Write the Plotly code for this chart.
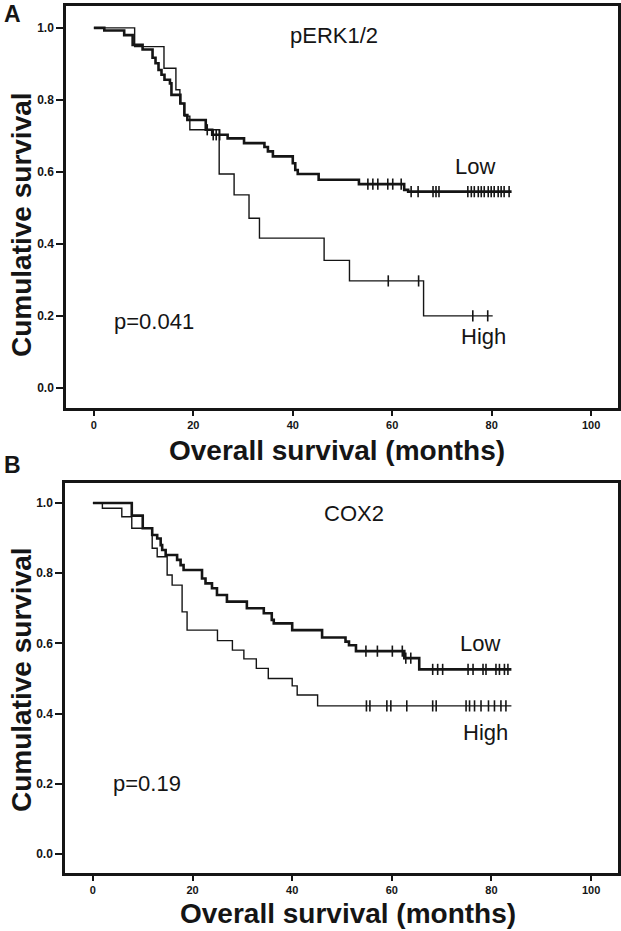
import plotly.graph_objects as go

# Panel A: pERK1/2 (months, cumulative survival after each step)
A_LOW_T = [0, 2.1, 6.1, 7.8, 9.8, 11.8, 12.4, 13.0, 13.6, 14.2, 15.3, 15.6, 17.4, 18.2, 18.8,
           22.5, 23.8, 26.9, 30.2, 34.3, 35.0, 36.0, 40.0, 40.5, 41.0, 45.2, 53.3, 62.4, 63.2, 84.0]
A_LOW_S = [1.0, 0.993, 0.98, 0.953, 0.94, 0.917, 0.902, 0.883, 0.87, 0.856, 0.846, 0.814, 0.79, 0.758, 0.744,
           0.717, 0.703, 0.693, 0.68, 0.669, 0.657, 0.643, 0.624, 0.605, 0.594, 0.578, 0.566, 0.55, 0.545, 0.545]
A_LOW_CENSOR = [24.0, 24.6, 25.3, 55.1, 56.1, 57.1, 59.1, 60.1, 61.8, 63.8, 65.2, 68.2, 68.8, 69.4,
                75.2, 75.9, 76.5, 77.3, 77.9, 78.5, 79.3, 79.9, 80.5, 81.3, 81.9, 82.5, 83.5]

A_HIGH_T = [0, 8.2, 14.1, 16.5, 17.3, 18.2, 19.3, 25.2, 28.2, 31.2, 33.3, 46.3, 51.4, 66.3, 80.2]
A_HIGH_S = [1.0, 0.948, 0.888, 0.828, 0.79, 0.755, 0.717, 0.594, 0.536, 0.471, 0.416, 0.354, 0.297, 0.2, 0.2]
A_HIGH_CENSOR = [22.8, 59.2, 65.3, 76.2, 79.2]

# Panel B: COX2
B_LOW_T = [0, 7.8, 10.0, 11.9, 12.9, 13.6, 13.9, 14.6, 16.9, 17.6, 18.2, 21.9, 22.6, 23.9, 24.9, 26.9,
           30.9, 34.3, 35.9, 36.3, 40.0, 46.0, 50.7, 51.4, 52.8, 62.5, 65.5, 84.0]
B_LOW_S = [1.0, 0.964, 0.928, 0.909, 0.899, 0.88, 0.866, 0.852, 0.838, 0.823, 0.809, 0.785, 0.771, 0.757, 0.738, 0.719,
           0.70, 0.686, 0.667, 0.657, 0.638, 0.617, 0.605, 0.595, 0.578, 0.558, 0.526, 0.526]
B_LOW_CENSOR = [54.8, 57.1, 60.1, 62.1, 62.8, 63.8, 68.2, 69.2, 70.2, 75.3, 76.3, 78.3, 78.9, 80.9, 81.6, 82.6, 83.3]

B_HIGH_T = [0, 1.9, 5.8, 7.8, 11.9, 12.9, 14.9, 15.9, 17.9, 18.9, 25.0, 28.0, 30.3, 32.8, 35.2, 40.0, 41.0, 45.1, 84.0]
B_HIGH_S = [1.0, 0.985, 0.961, 0.928, 0.871, 0.847, 0.795, 0.766, 0.69, 0.638, 0.608, 0.581, 0.556, 0.529, 0.50,
            0.479, 0.453, 0.422, 0.422]
B_HIGH_CENSOR = [54.9, 55.6, 59.0, 59.8, 63.0, 68.2, 68.9, 74.9, 75.6, 76.6, 77.9, 79.4, 80.6, 81.9, 82.9]

X_TICKS = [0, 20, 40, 60, 80, 100]
Y_TICKS = [0.0, 0.2, 0.4, 0.6, 0.8, 1.0]

INK = "#151515"
FONT = "Liberation Sans, Arial, sans-serif"


def surv_at(times, surv, t):
    """Step-function lookup: survival value in effect at time t."""
    val = surv[0]
    for ti, si in zip(times, surv):
        if ti <= t:
            val = si
    return val


def add_group(fig, times, surv, censor, width, xa, ya):
    fig.add_trace(go.Scatter(
        x=times, y=surv, mode="lines", line=dict(shape="hv", width=width, color=INK),
        xaxis=xa, yaxis=ya, showlegend=False, hoverinfo="skip",
    ))
    fig.add_trace(go.Scatter(
        x=censor, y=[surv_at(times, surv, t) for t in censor], mode="markers",
        marker=dict(symbol="line-ns", size=8, line=dict(width=1.6, color=INK)),
        xaxis=xa, yaxis=ya, showlegend=False, hoverinfo="skip",
    ))


fig = go.Figure()
add_group(fig, A_LOW_T, A_LOW_S, A_LOW_CENSOR, 2.6, "x", "y")
add_group(fig, A_HIGH_T, A_HIGH_S, A_HIGH_CENSOR, 1.4, "x", "y")
add_group(fig, B_LOW_T, B_LOW_S, B_LOW_CENSOR, 2.6, "x2", "y2")
add_group(fig, B_HIGH_T, B_HIGH_S, B_HIGH_CENSOR, 1.4, "x2", "y2")

xcommon = dict(
    range=[-5.6, 105.4], tickvals=X_TICKS, ticks="outside", ticklen=5, tickwidth=1.5, tickcolor=INK,
    showline=True, linewidth=2.5, linecolor=INK, mirror=True, showgrid=False, zeroline=False,
    tickfont=dict(family=FONT, size=11, color=INK, weight="bold"),
)
ycommon = dict(
    tickvals=Y_TICKS, tickformat=".1f", ticks="outside", ticklen=7, tickwidth=1.5, tickcolor=INK,
    showline=True, linewidth=2.5, linecolor=INK, mirror=True, showgrid=False, zeroline=False,
    tickfont=dict(family=FONT, size=12, color=INK, weight="bold"),
)

fig.update_layout(
    width=621, height=931, margin=dict(l=0, r=0, t=0, b=0),
    paper_bgcolor="white", plot_bgcolor="white",
    xaxis=dict(domain=[0.1063, 0.9952], anchor="y", **xcommon),
    yaxis=dict(domain=[0.5618, 0.9936], anchor="x", range=[-0.056, 1.061], **ycommon),
    xaxis2=dict(domain=[0.1047, 0.9952], anchor="y2", **xcommon),
    yaxis2=dict(domain=[0.0623, 0.4812], anchor="x2", range=[-0.054, 1.057], **ycommon),
)

label_font = dict(family=FONT, size=22, color=INK)
bold_title = dict(family=FONT, size=28, color=INK, weight="bold")
annotations = [
    # panel A texts
    dict(text="A", x=12 / 621, y=1 - 14 / 931, xref="paper", yref="paper",
         font=dict(family=FONT, size=23, color=INK, weight="bold")),
    dict(text="pERK1/2", x=48.3, y=0.98, xref="x", yref="y", font=label_font),
    dict(text="Low", x=76.7, y=0.614, xref="x", yref="y", font=label_font),
    dict(text="High", x=78.3, y=0.142, xref="x", yref="y", font=label_font),
    dict(text="p=0.041", x=12.1, y=0.183, xref="x", yref="y", font=label_font),
    dict(text="Cumulative survival", x=21 / 621, y=1 - 225 / 931, xref="paper", yref="paper",
         textangle=-90, font=bold_title),
    dict(text="Overall survival (months)", x=337 / 621, y=1 - 450 / 931, xref="paper", yref="paper",
         font=bold_title),
    # panel B texts
    dict(text="B", x=12 / 621, y=1 - 465 / 931, xref="paper", yref="paper",
         font=dict(family=FONT, size=23, color=INK, weight="bold")),
    dict(text="COX2", x=52.5, y=0.971, xref="x2", yref="y2", font=label_font),
    dict(text="Low", x=77.7, y=0.601, xref="x2", yref="y2", font=label_font),
    dict(text="High", x=78.9, y=0.345, xref="x2", yref="y2", font=label_font),
    dict(text="p=0.19", x=10.9, y=0.202, xref="x2", yref="y2", font=label_font),
    dict(text="Cumulative survival", x=21 / 621, y=1 - 680 / 931, xref="paper", yref="paper",
         textangle=-90, font=bold_title),
    dict(text="Overall survival (months)", x=348 / 621, y=1 - 913 / 931, xref="paper", yref="paper",
         font=bold_title),
]
for a in annotations:
    a.update(showarrow=False, xanchor="center", yanchor="middle")
fig.update_layout(annotations=annotations)

# drop the page's default body margin so the figure sits at the window's top-left corner
fig.write_html("out.html", config={"displayModeBar": False},
               post_script="document.body.style.margin='0';")
